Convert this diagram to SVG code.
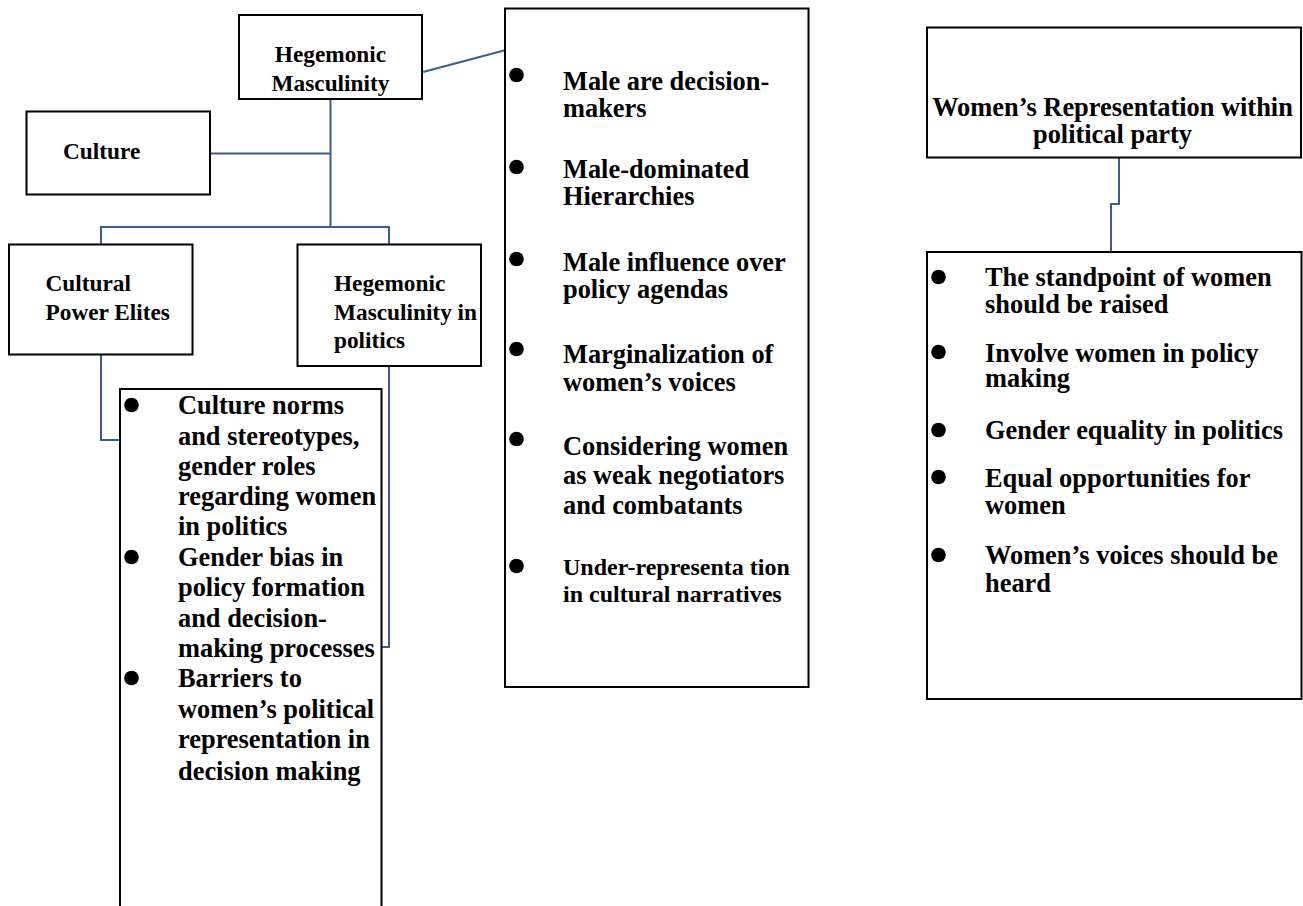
<svg xmlns="http://www.w3.org/2000/svg" width="1303" height="906" viewBox="0 0 1303 906">
<style>
.box{fill:#fff;stroke:#000;stroke-width:2}
.t{font-family:"Liberation Serif","Times New Roman",serif;font-weight:bold;fill:#000}
.s23{font-size:23.3px}
.s26{font-size:26.4px}
.s24{font-size:24px}
.c{text-anchor:middle}
.con{fill:none;stroke:#3d5a99;stroke-width:2}
.dot{fill:#000}
</style>
<rect width="1303" height="906" fill="#fff"/>
<g id="connectors">
<path class="con" d="M330.5 99 V227 M210 153.5 H330.5 M101 244 V227 H389 V244"/>
<path class="con" d="M423 72 L504 50.5"/>
<path class="con" d="M101 355 V440 H120"/>
<path class="con" d="M389 366 V647 H382"/>
<path class="con" d="M1119 157 V204 H1111 V252"/>
</g>
<g id="hegemonic-masculinity">
<rect class="box" x="239" y="15" width="183" height="84"/>
<text class="t s23 c"><tspan x="330.5" y="62">Hegemonic</tspan><tspan x="330.5" y="90.5">Masculinity</tspan></text>
</g>
<g id="culture">
<rect class="box" x="26.5" y="111.5" width="183.5" height="83"/>
<text class="t s23" x="63" y="159">Culture</text>
</g>
<g id="cultural-power-elites">
<rect class="box" x="9" y="244.5" width="183.5" height="110"/>
<text class="t s23"><tspan x="45.5" y="290.5">Cultural</tspan><tspan x="45.5" y="320">Power Elites</tspan></text>
</g>
<g id="hegemonic-masculinity-politics">
<rect class="box" x="297.5" y="244.5" width="183.5" height="121.5"/>
<text class="t s23"><tspan x="334" y="290.5">Hegemonic</tspan><tspan x="334" y="319.5">Masculinity in</tspan><tspan x="334" y="347.5">politics</tspan></text>
</g>
<g id="cultural-list">
<rect class="box" x="120" y="389" width="261.5" height="530"/>
<circle class="dot" cx="131.5" cy="405" r="7.3"/>
<circle class="dot" cx="131.5" cy="557" r="7.3"/>
<circle class="dot" cx="131.5" cy="678" r="7.3"/>
<text class="t s26"><tspan x="178" y="414">Culture norms</tspan><tspan x="178" y="445">and stereotypes,</tspan><tspan x="178" y="475">gender roles</tspan><tspan x="178" y="505">regarding women</tspan><tspan x="178" y="535">in politics</tspan></text>
<text class="t s26"><tspan x="178" y="566">Gender bias in</tspan><tspan x="178" y="596">policy formation</tspan><tspan x="178" y="627">and decision-</tspan><tspan x="178" y="657">making processes</tspan></text>
<text class="t s26"><tspan x="178" y="687">Barriers to</tspan><tspan x="178" y="718">women’s political</tspan><tspan x="178" y="748">representation in</tspan><tspan x="178" y="780">decision making</tspan></text>
</g>
<g id="masculinity-list">
<rect class="box" x="505" y="8.5" width="303.5" height="678.5"/>
<circle class="dot" cx="516.5" cy="75" r="7.3"/>
<circle class="dot" cx="516.5" cy="167" r="7.3"/>
<circle class="dot" cx="516.5" cy="259" r="7.3"/>
<circle class="dot" cx="516.5" cy="349" r="7.3"/>
<circle class="dot" cx="516.5" cy="439" r="7.3"/>
<circle class="dot" cx="516.5" cy="566" r="7.3"/>
<text class="t s26"><tspan x="563" y="90">Male are decision-</tspan><tspan x="563" y="117">makers</tspan></text>
<text class="t s26"><tspan x="563" y="178">Male-dominated</tspan><tspan x="563" y="205">Hierarchies</tspan></text>
<text class="t s26"><tspan x="563" y="271">Male influence over</tspan><tspan x="563" y="298">policy agendas</tspan></text>
<text class="t s26"><tspan x="563" y="363">Marginalization of</tspan><tspan x="563" y="391">women’s voices</tspan></text>
<text class="t s26"><tspan x="563" y="455">Considering women</tspan><tspan x="563" y="484">as weak negotiators</tspan><tspan x="563" y="514">and combatants</tspan></text>
<text class="t s24"><tspan x="563" y="575">Under-representa tion</tspan><tspan x="563" y="602">in cultural narratives</tspan></text>
</g>
<g id="womens-representation">
<rect class="box" x="927" y="27.5" width="374" height="130"/>
<text class="t s26 c"><tspan x="1112.5" y="116">Women’s Representation within</tspan><tspan x="1112.5" y="143">political party</tspan></text>
</g>
<g id="womens-list">
<rect class="box" x="927" y="252" width="374.5" height="447"/>
<circle class="dot" cx="938.5" cy="277" r="7.3"/>
<circle class="dot" cx="938.5" cy="352" r="7.3"/>
<circle class="dot" cx="938.5" cy="430" r="7.3"/>
<circle class="dot" cx="938.5" cy="477" r="7.3"/>
<circle class="dot" cx="938.5" cy="555" r="7.3"/>
<text class="t s26"><tspan x="985" y="286">The standpoint of women</tspan><tspan x="985" y="313">should be raised</tspan></text>
<text class="t s26"><tspan x="985" y="362">Involve women in policy</tspan><tspan x="985" y="387">making</tspan></text>
<text class="t s26" x="985" y="439">Gender equality in politics</text>
<text class="t s26"><tspan x="985" y="487">Equal opportunities for</tspan><tspan x="985" y="514">women</tspan></text>
<text class="t s26"><tspan x="985" y="564">Women’s voices should be</tspan><tspan x="985" y="592">heard</tspan></text>
</g>
</svg>
